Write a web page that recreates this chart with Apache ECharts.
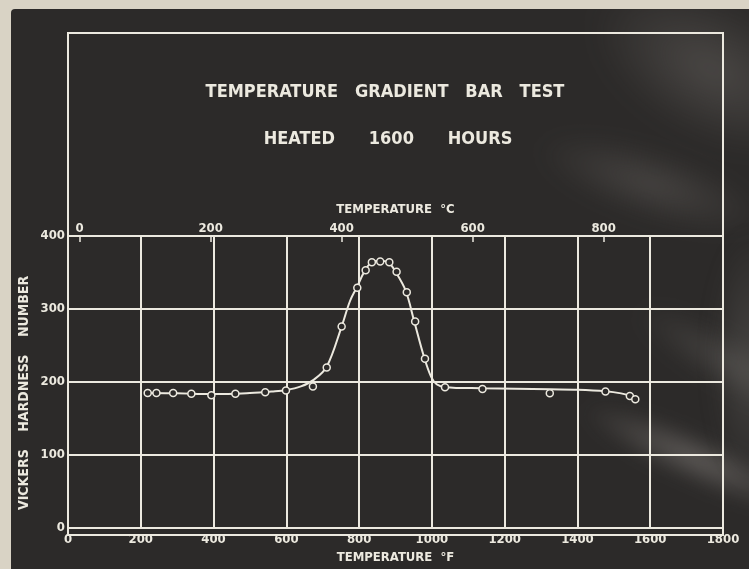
<!DOCTYPE html>
<html>
<head>
<meta charset="utf-8">
<title>Temperature Gradient Bar Test</title>
<script src="https://cdn.jsdelivr.net/npm/echarts@6/dist/echarts.min.js"></script>
<style>
  html, body { margin: 0; padding: 0; background: #d9d3c5; }
  #wrap { position: relative; width: 749px; height: 569px; overflow: hidden; background: #d9d3c5; }
  #board { position: absolute; left: 11px; top: 9px; right: 0; bottom: 0; background: #2c2a29; border-top-left-radius: 4px; overflow: hidden; }
  .haze { position: absolute; border-radius: 50%; }
  #chart { position: absolute; left: 0; top: 0; width: 749px; height: 569px; }
</style>
</head>
<body>
<div id="wrap">
  <div id="board">
    <div class="haze" style="left:570px;top:-10px;width:260px;height:140px;transform:rotate(28deg);background:radial-gradient(ellipse at center, rgba(112,108,104,0.45), rgba(112,108,104,0) 70%);filter:blur(12px);"></div>
    <div class="haze" style="left:520px;top:140px;width:240px;height:70px;transform:rotate(18deg);background:radial-gradient(ellipse at center, rgba(110,106,102,0.4), rgba(110,106,102,0) 70%);filter:blur(10px);"></div>
    <div class="haze" style="left:560px;top:425px;width:250px;height:50px;transform:rotate(24deg);background:radial-gradient(ellipse at center, rgba(135,130,126,0.55), rgba(135,130,126,0) 70%);filter:blur(8px);"></div>
    <div class="haze" style="left:610px;top:330px;width:220px;height:50px;transform:rotate(30deg);background:radial-gradient(ellipse at center, rgba(115,112,108,0.4), rgba(115,112,108,0) 70%);filter:blur(10px);"></div>
    <div class="haze" style="left:700px;top:220px;width:80px;height:260px;background:radial-gradient(ellipse at center, rgba(110,108,104,0.4), rgba(110,108,104,0) 70%);filter:blur(10px);"></div>
  </div>
  <div id="chart"></div>
</div>
<script>
// Hardness readings along the bar (temperature in °F, Vickers number)
const testTempF = [219, 243, 289, 339, 394, 460, 542, 599, 673, 711, 752, 795, 818, 835, 858, 883, 903, 931, 954, 981, 1036, 1139, 1324, 1477, 1544, 1559];
const testHardness = [185, 185, 185, 184, 182, 184, 186, 188.5, 194, 220, 276, 329, 353, 364, 365, 364, 351, 323, 283, 232, 193, 190.5, 184.5, 187, 181, 176.5];

// Faired curve drawn through the readings
const curveTempF = [219, 300, 400, 500, 560, 600, 640, 675, 711, 752, 775, 795, 812, 832, 855, 880, 900, 928, 951, 978, 998, 1013, 1036, 1136, 1324, 1400, 1477, 1520, 1544, 1559];
const curveHardness = [185, 184.5, 183.5, 185, 187, 189, 194, 203, 221, 276, 311, 331, 349, 363, 366, 364, 351, 325, 284, 235, 207, 197, 193, 191.5, 190, 189.5, 187.5, 184.5, 181, 177];

// Axis ticks
const fahrenheitTicks = { min: 0, max: 1800, step: 200 };
const hardnessTicks = { min: 0, max: 400, step: 100 };
const celsiusTicks = [0, 200, 400, 600, 800];

const titleLines = ['TEMPERATURE   GRADIENT   BAR   TEST', 'HEATED      1600      HOURS'];
const hardnessName = 'VICKERS    HARDNESS    NUMBER';
const fahrenheitName = 'TEMPERATURE  °F';
const celsiusName = 'TEMPERATURE  °C';

const ink = '#ece9df';
const board = '#2c2a29';
const font = '"DejaVu Sans Condensed", "Liberation Sans Narrow", "DejaVu Sans", sans-serif';

const toC = f => (f - 32) * 5 / 9;

const chart = echarts.init(document.getElementById('chart'), null, { renderer: 'canvas' });

const labelStyle = { color: ink, fontFamily: font, fontWeight: 'bold', fontSize: 13 };
const textStyle = (size) => ({ fill: ink, fontFamily: font, fontWeight: 'bold', fontSize: size, align: 'center', verticalAlign: 'middle' });

chart.setOption({
  backgroundColor: 'transparent',
  animation: false,
  graphic: [
    { type: 'text', x: 385, y: 92, style: Object.assign({ text: titleLines[0] }, textStyle(18)) },
    { type: 'text', x: 388, y: 139, style: Object.assign({ text: titleLines[1] }, textStyle(18)) },
    { type: 'text', x: 24, y: 393, rotation: Math.PI / 2, style: Object.assign({ text: hardnessName }, textStyle(14)) }
  ],
  grid: [
    { left: 68, right: 26, top: 236, bottom: 34 },
    { left: 68, right: 26, top: 33, bottom: 34, show: true, borderColor: ink, borderWidth: 2, backgroundColor: 'transparent' }
  ],
  xAxis: [
    {
      gridIndex: 0, type: 'value', position: 'bottom',
      min: fahrenheitTicks.min, max: fahrenheitTicks.max, interval: fahrenheitTicks.step,
      name: fahrenheitName, nameLocation: 'middle', nameGap: 19,
      nameTextStyle: { color: ink, fontFamily: font, fontWeight: 'bold', fontSize: 13 },
      axisLine: { show: true, lineStyle: { color: ink, width: 2 } },
      axisTick: { show: false },
      axisLabel: Object.assign({ margin: 5, formatter: v => String(v) }, labelStyle),
      splitLine: { show: true, lineStyle: { color: ink, width: 2 } }
    },
    {
      gridIndex: 0, type: 'value', position: 'top',
      min: toC(fahrenheitTicks.min), max: toC(fahrenheitTicks.max),
      name: celsiusName, nameLocation: 'middle', nameGap: 20,
      nameTextStyle: { color: ink, fontFamily: font, fontWeight: 'bold', fontSize: 13 },
      axisLine: { show: true, lineStyle: { color: ink, width: 2 } },
      axisTick: { show: true, inside: true, length: 6, customValues: celsiusTicks, lineStyle: { color: ink, width: 1.5 } },
      axisLabel: Object.assign({ margin: 1, customValues: celsiusTicks, formatter: v => String(v) }, labelStyle),
      splitLine: { show: false }
    },
    { gridIndex: 1, type: 'value', show: false, min: 0, max: 1 }
  ],
  yAxis: [
    {
      gridIndex: 0, type: 'value',
      min: hardnessTicks.min, max: hardnessTicks.max, interval: hardnessTicks.step,
      axisLine: { show: true, lineStyle: { color: ink, width: 2 } },
      axisTick: { show: false },
      axisLabel: Object.assign({ margin: 3 }, labelStyle),
      splitLine: { show: true, lineStyle: { color: ink, width: 2 } }
    },
    { gridIndex: 1, type: 'value', show: false, min: 0, max: 1 }
  ],
  series: [
    {
      name: 'curve', type: 'line', xAxisIndex: 0, yAxisIndex: 0,
      data: curveTempF.map((f, i) => [f, curveHardness[i]]),
      smooth: 0.35, symbol: 'none',
      lineStyle: { color: ink, width: 2 }, z: 3, silent: true
    },
    {
      name: 'readings', type: 'scatter', xAxisIndex: 0, yAxisIndex: 0,
      data: testTempF.map((f, i) => [f, testHardness[i]]),
      symbol: 'circle', symbolSize: 7,
      itemStyle: { color: board, borderColor: ink, borderWidth: 1.5, opacity: 1 }, z: 4
    }
  ]
});
</script>
</body>
</html>
